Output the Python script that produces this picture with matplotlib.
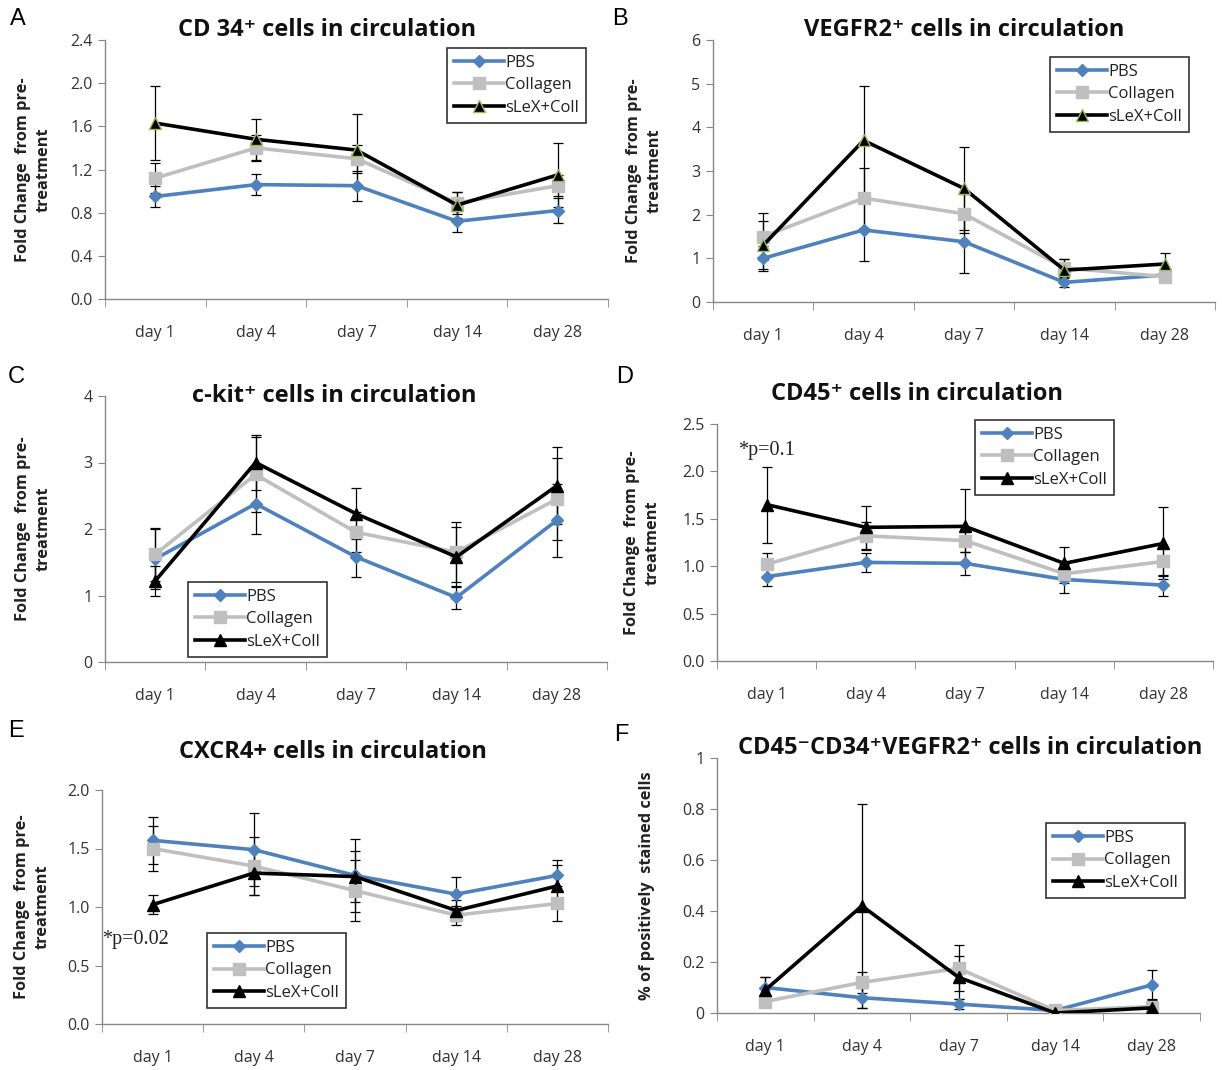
import matplotlib
matplotlib.use("Agg")
import matplotlib.pyplot as plt
from matplotlib.ticker import FixedLocator, NullFormatter

plt.rcParams['font.family'] = ['Open Sans', 'DejaVu Sans']

days = ["day 1", "day 4", "day 7", "day 14", "day 28"]
groups = ["PBS", "Collagen", "sLeX+Coll"]

# panel A: CD34+
a_pbs = [0.95, 1.06, 1.05, 0.72, 0.82]
a_pbs_err = [0.10, 0.10, 0.14, 0.10, 0.12]
a_col = [1.12, 1.40, 1.30, 0.89, 1.05]
a_col_err = [0.14, 0.12, 0.13, 0.10, 0.10]
a_slx = [1.63, 1.48, 1.38, 0.87, 1.15]
a_slx_err = [0.34, 0.19, 0.33, 0.12, 0.30]

# panel B: VEGFR2+
b_pbs = [1.00, 1.65, 1.38, 0.45, 0.62]
b_pbs_err = [0.28, 0.70, 0.71, 0.10, 0.08]
b_col = [1.50, 2.38, 2.02, 0.78, 0.58]
b_col_err = [0.53, 0.69, 0.45, 0.20, 0.10]
b_slx = [1.30, 3.70, 2.60, 0.73, 0.87]
b_slx_err = [0.55, 1.25, 0.95, 0.25, 0.25]

# panel C: c-kit+
c_pbs = [1.55, 2.38, 1.58, 0.97, 2.13]
c_pbs_err = [0.45, 0.45, 0.30, 0.18, 0.55]
c_col = [1.62, 2.82, 1.95, 1.65, 2.45]
c_col_err = [0.40, 0.56, 0.30, 0.45, 0.62]
c_slx = [1.22, 3.00, 2.23, 1.58, 2.65]
c_slx_err = [0.22, 0.42, 0.38, 0.45, 0.58]

# panel D: CD45+
d_pbs = [0.89, 1.04, 1.03, 0.86, 0.80]
d_pbs_err = [0.10, 0.10, 0.12, 0.14, 0.11]
d_col = [1.02, 1.32, 1.27, 0.92, 1.05]
d_col_err = [0.12, 0.15, 0.12, 0.10, 0.15]
d_slx = [1.65, 1.41, 1.42, 1.03, 1.24]
d_slx_err = [0.40, 0.23, 0.39, 0.17, 0.38]

# panel E: CXCR4+
e_pbs = [1.57, 1.49, 1.27, 1.11, 1.27]
e_pbs_err = [0.20, 0.31, 0.31, 0.15, 0.13]
e_col = [1.50, 1.35, 1.14, 0.93, 1.03]
e_col_err = [0.19, 0.25, 0.26, 0.08, 0.15]
e_slx = [1.02, 1.29, 1.26, 0.97, 1.18]
e_slx_err = [0.08, 0.19, 0.22, 0.09, 0.18]

# panel F: CD45-CD34+VEGFR2+
f_pbs = [0.10, 0.06, 0.035, 0.01, 0.11]
f_pbs_err = [0.04, 0.04, 0.02, 0.005, 0.06]
f_col = [0.045, 0.12, 0.175, 0.01, 0.025]
f_col_err = [0.01, 0.04, 0.09, 0.005, 0.03]
f_slx = [0.09, 0.42, 0.14, 0.0, 0.02]
f_slx_err = [0.05, 0.40, 0.085, 0.0, 0.02]

W, H = 1222, 1070
fig = plt.figure(figsize=(W / 100, H / 100), dpi=100)


def box(x0, y0, x1, y1):
    return [x0 / W, 1 - y1 / H, (x1 - x0) / W, (y1 - y0) / H]


def panel(rect, title, title_xy, ymax, step, fmt, series, leg_xy, ylabel, ylab_x,
          tri_edge="black"):
    ax = fig.add_axes(box(*rect))
    x = [i + 0.5 for i in range(len(days))]
    styles = [
        dict(color="#4F81BD", marker="D", ms=6.5, mfc="#4F81BD", mec="#4F81BD"),
        dict(color="#BFBFBF", marker="s", ms=8, mfc="#BFBFBF", mec="#BFBFBF"),
        dict(color="black", marker="^", ms=8.5, mfc="black", mec=tri_edge),
    ]
    for k, (vals, errs) in enumerate(series):
        ax.errorbar(x, vals, yerr=errs, fmt="none", ecolor="black", elinewidth=0.9,
                    capsize=3.5, capthick=0.9, zorder=2 + k)
        ax.plot(x, vals, lw=2.6, label=groups[k], zorder=5 + k, **styles[k])
    ax.set_xlim(0, len(days))
    ax.set_ylim(0, ymax)
    n = int(round(ymax / step))
    yt = [i * step for i in range(n + 1)]
    ax.set_yticks(yt)
    ax.set_yticklabels([fmt(v) for v in yt])
    ax.set_xticks(x)
    ax.set_xticklabels(days)
    ax.xaxis.set_minor_locator(FixedLocator(range(len(days) + 1)))
    ax.xaxis.set_minor_formatter(NullFormatter())
    ax.tick_params(axis="x", which="major", length=0, pad=19, labelsize=11.5, labelcolor="#333333")
    ax.tick_params(axis="x", which="minor", length=6, color="#888888", direction="out")
    ax.tick_params(axis="y", length=5, color="#888888", labelsize=11.5, labelcolor="#333333", pad=4)
    for s in ["top", "right"]:
        ax.spines[s].set_visible(False)
    for s in ["left", "bottom"]:
        ax.spines[s].set_color("#888888")
        ax.spines[s].set_linewidth(1.0)
    fig.text(title_xy[0] / W, 1 - title_xy[1] / H, title, fontsize=17, fontweight="bold",
             color="#111111", ha="center", va="center")
    ax.set_ylabel(ylabel, fontsize=11.8, fontweight="bold", color="#222222", linespacing=1.45)
    ax.yaxis.set_label_coords((ylab_x - rect[0]) / (rect[2] - rect[0]), 0.5)
    leg = ax.legend(loc="upper left", bbox_to_anchor=(leg_xy[0] / W, 1 - leg_xy[1] / H),
                    bbox_transform=fig.transFigure, borderaxespad=0, fontsize=12,
                    frameon=True, fancybox=False, edgecolor="black", handlelength=3.0,
                    handletextpad=0.1, labelspacing=0.4, borderpad=0.4)
    leg.get_frame().set_linewidth(1.2)
    for t in leg.get_texts():
        t.set_color("#222222")
    return ax


ylab = "Fold Change  from pre-\ntreatment"

panel((105, 40, 608, 299), "CD 34\u207a cells in circulation", (327, 30), 2.4, 0.4,
      lambda v: f"{v:.1f}",
      [(a_pbs, a_pbs_err), (a_col, a_col_err), (a_slx, a_slx_err)], (447, 48), ylab, 52,
      "#9BBB59")
panel((713, 40, 1215, 302), "VEGFR2\u207a cells in circulation", (964, 30), 6, 1,
      lambda v: f"{v:.0f}",
      [(b_pbs, b_pbs_err), (b_col, b_col_err), (b_slx, b_slx_err)], (1050, 57), ylab, 663,
      "#9BBB59")
panel((105, 396, 607, 662), "c-kit\u207a cells in circulation", (334, 396), 4, 1,
      lambda v: f"{v:.0f}",
      [(c_pbs, c_pbs_err), (c_col, c_col_err), (c_slx, c_slx_err)], (188, 582), ylab, 52)
axd = panel((717, 424, 1213, 661), "CD45\u207a cells in circulation", (917, 394), 2.5, 0.5,
            lambda v: f"{v:.1f}",
            [(d_pbs, d_pbs_err), (d_col, d_col_err), (d_slx, d_slx_err)], (975, 420), ylab, 661)
axe = panel((102, 790, 608, 1024), "CXCR4+ cells in circulation", (333, 752), 2.0, 0.5,
            lambda v: f"{v:.1f}",
            [(e_pbs, e_pbs_err), (e_col, e_col_err), (e_slx, e_slx_err)], (207, 933), ylab, 51)
panel((717, 758, 1200, 1013), "CD45\u207bCD34\u207aVEGFR2\u207a cells in circulation", (970, 748),
      1, 0.2, lambda v: "0" if v == 0 else ("1" if abs(v - 1) < 1e-9 else f"{v:.1f}"),
      [(f_pbs, f_pbs_err), (f_col, f_col_err), (f_slx, f_slx_err)], (1046, 823),
      "% of positively  stained cells", 655)

axd.text(0.5, 2.22, "*p=0.1", ha="center", va="center", fontsize=14.5,
         family=["Liberation Serif", "DejaVu Serif"], color="#222222")
axe.text(0.0, 0.72, "*p=0.02", ha="left", va="center", fontsize=14.5,
         family=["Liberation Serif", "DejaVu Serif"], color="#222222")

for letter, px, py in [("A", 10, 19), ("B", 612, 19), ("C", 8, 377), ("D", 616, 377),
                       ("E", 8, 731), ("F", 614, 735)]:
    fig.text(px / W, 1 - py / H, letter, fontsize=17, va="center", ha="left",
             family=["Liberation Sans", "DejaVu Sans"])

fig.savefig("out.png", dpi=100)
